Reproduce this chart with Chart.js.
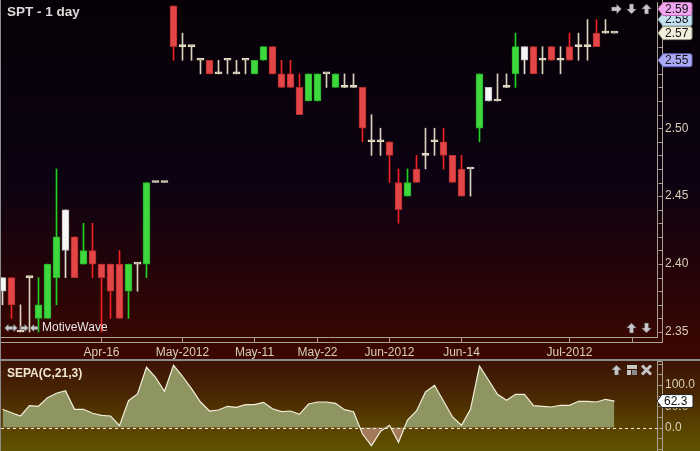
<!DOCTYPE html>
<html>
<head>
<meta charset="utf-8">
<script src="https://cdn.jsdelivr.net/npm/chart.js@4.4.1/dist/chart.umd.min.js"></script>
<style>
  html, body { margin: 0; padding: 0; background: #8c8c8c; }
  #wrap { position: relative; width: 700px; height: 451px; overflow: hidden; background: #8c8c8c; }
  #priceChart { position: absolute; left: 1px; top: 0; }
  #sepaChart { position: absolute; left: 1px; top: 361px; }
</style>
</head>
<body>
<div id="wrap">
  <canvas id="priceChart" width="699" height="359"></canvas>
  <canvas id="sepaChart" width="699" height="90"></canvas>
</div>
<script>
// SPT daily bars
const opens = [2.38, 2.39, 2.35, 2.39, 2.36, 2.36, 2.39, 2.41, 2.42, 2.40,
  2.41, 2.40, 2.40, 2.40, 2.38, 2.40, 2.40, 2.46, 2.46, 2.59,
  2.56, 2.56, 2.55, 2.55, 2.54, 2.55, 2.54, 2.55, 2.54, 2.55,
  2.56, 2.54, 2.54, 2.53, 2.52, 2.52, 2.54, 2.53, 2.53, 2.53,
  2.53, 2.49, 2.49, 2.49, 2.46, 2.45, 2.47, 2.48, 2.49, 2.49,
  2.48, 2.47, 2.47, 2.50, 2.52, 2.52, 2.53, 2.54, 2.55, 2.56,
  2.55, 2.56, 2.55, 2.56, 2.56, 2.56, 2.57, 2.57, 2.57];
const highs = [2.39, 2.39, 2.37, 2.39, 2.39, 2.40, 2.47, 2.44, 2.42, 2.43,
  2.43, 2.40, 2.40, 2.41, 2.40, 2.40, 2.46, 2.46, 2.46, 2.59,
  2.57, 2.56, 2.55, 2.55, 2.55, 2.55, 2.55, 2.55, 2.55, 2.56,
  2.56, 2.55, 2.55, 2.54, 2.54, 2.54, 2.54, 2.54, 2.54, 2.54,
  2.53, 2.51, 2.50, 2.49, 2.47, 2.47, 2.48, 2.50, 2.50, 2.50,
  2.48, 2.48, 2.47, 2.54, 2.53, 2.54, 2.54, 2.57, 2.56, 2.56,
  2.56, 2.56, 2.56, 2.57, 2.57, 2.58, 2.58, 2.58, 2.57];
const lows = [2.37, 2.36, 2.35, 2.35, 2.35, 2.36, 2.37, 2.39, 2.39, 2.40,
  2.39, 2.35, 2.36, 2.36, 2.36, 2.38, 2.39, 2.46, 2.46, 2.55,
  2.55, 2.55, 2.54, 2.54, 2.54, 2.54, 2.54, 2.54, 2.54, 2.55,
  2.54, 2.53, 2.53, 2.51, 2.52, 2.52, 2.53, 2.53, 2.53, 2.53,
  2.49, 2.48, 2.48, 2.46, 2.43, 2.45, 2.46, 2.47, 2.48, 2.47,
  2.46, 2.45, 2.45, 2.49, 2.52, 2.52, 2.53, 2.53, 2.54, 2.54,
  2.54, 2.55, 2.54, 2.55, 2.55, 2.55, 2.56, 2.57, 2.57];
const closes = [2.39, 2.37, 2.35, 2.39, 2.37, 2.40, 2.42, 2.44, 2.39, 2.41,
  2.40, 2.39, 2.38, 2.36, 2.40, 2.40, 2.46, 2.46, 2.46, 2.56,
  2.56, 2.56, 2.55, 2.54, 2.54, 2.55, 2.54, 2.55, 2.55, 2.56,
  2.54, 2.53, 2.53, 2.51, 2.54, 2.54, 2.54, 2.54, 2.53, 2.53,
  2.50, 2.49, 2.49, 2.48, 2.44, 2.46, 2.46, 2.48, 2.49, 2.48,
  2.46, 2.45, 2.47, 2.54, 2.53, 2.52, 2.53, 2.56, 2.56, 2.54,
  2.55, 2.55, 2.55, 2.55, 2.56, 2.56, 2.56, 2.57, 2.57];
// bars the platform paints white
const whiteBars = [0, 7, 54, 58];

// SEPA(C,21,3) indicator, one value per bar
const sepa = [42.9, 34.9, 27.1, 51.4, 50, 70.3, 80.7, 86.8, 42.9, 42.9,
  33.5, 28.8, 27.1, 4.2, 63.2, 79, 142, 118.4, 85.4, 146.7,
  120.8, 91.5, 60.1, 38.9, 41.3, 50, 47.6, 53.8, 53.8, 59.4,
  44.3, 37.3, 38.9, 31.1, 55.4, 60.1, 60.1, 57.1, 42, 37.3,
  -15.3, -42.9, -9, 5.2, -34.9, 17.7, 38.9, 83.7, 99.5, 62.5,
  24.8, 5.2, 42.9, 145, 112, 78.3, 64.2, 78.3, 78.3, 51.4,
  50, 48.3, 52.4, 52.4, 61.8, 61.8, 60.1, 66.5, 62.3];

// date axis
const dateTickIdx = [11, 20, 28, 35, 43, 51, 63, 70];
const dateTickLabels = ['Apr-16', 'May-2012', 'May-11', 'May-22', 'Jun-2012', 'Jun-14', 'Jul-2012', ''];

// price marker tags on the right edge
const markerPrices = [2.58, 2.57, 2.59, 2.55];
const markerFill = ['#c4e2f0', '#f2f0dc', '#f2a6f0', '#aaaaf6'];
const markerEdge = ['#7c9aa8', '#a4a28e', '#b86ab4', '#6666bc'];

const X_MIN = -1.5 / 9;
const X_MAX = X_MIN + 656 / 9;
const frameColor = '#a8a090';
const labelColor = '#d8d0b8';
const axisFont = { family: 'Liberation Sans', size: 12 };

function barKind(i) {
  if (whiteBars.includes(i)) return 'white';
  if (opens[i] === closes[i]) return 'doji';
  return closes[i] > opens[i] ? 'up' : 'down';
}
const candleFill = { up: '#3ed83e', down: '#e24646', white: '#f6f6f6', doji: '#ece6cc' };
const candleEdge = { up: '#27b027', down: '#b42c2c', white: '#bdbdbd', doji: '#e6e0c6' };
const wickColor = { up: '#22d022', down: '#ee2222', white: '#e2ded0', doji: '#d8d2bc' };

const barIdx = opens.map((_, i) => i);

function arrow(c, cx, cy, ang, s) {
  c.save();
  c.translate(cx, cy);
  c.rotate(ang);
  c.beginPath();
  c.moveTo(s, 0);
  c.lineTo(0, -s);
  c.lineTo(0, -s * 0.42);
  c.lineTo(-s, -s * 0.42);
  c.lineTo(-s, s * 0.42);
  c.lineTo(0, s * 0.42);
  c.lineTo(0, s);
  c.closePath();
  c.fillStyle = '#c6c6c6';
  c.fill();
  c.strokeStyle = 'rgba(60,60,60,0.7)';
  c.lineWidth = 0.7;
  c.stroke();
  c.restore();
}

function tag(c, xTip, yc, text, fill, edge, w) {
  const h = 13, x1 = xTip + 5, x2 = xTip + w;
  c.beginPath();
  c.moveTo(xTip, yc);
  c.lineTo(x1, yc - h / 2);
  c.lineTo(x2 - 2, yc - h / 2);
  c.quadraticCurveTo(x2, yc - h / 2, x2, yc - h / 2 + 2);
  c.lineTo(x2, yc + h / 2 - 2);
  c.quadraticCurveTo(x2, yc + h / 2, x2 - 2, yc + h / 2);
  c.lineTo(x1, yc + h / 2);
  c.closePath();
  c.fillStyle = fill;
  c.fill();
  c.strokeStyle = edge;
  c.lineWidth = 1;
  c.stroke();
  c.fillStyle = '#141414';
  c.font = '12px "Liberation Sans"';
  c.textBaseline = 'middle';
  c.textAlign = 'left';
  c.fillText(text, x1 + 2, yc + 0.5);
}

// background, frame, tags and the small icons of the price panel
const priceDecor = {
  id: 'priceDecor',
  beforeDraw(chart) {
    const c = chart.ctx;
    const g = c.createLinearGradient(0, 0, 0, chart.height);
    g.addColorStop(0, '#060006');
    g.addColorStop(0.5, '#0c0212');
    g.addColorStop(0.76, '#240409');
    g.addColorStop(1, '#3e0700');
    c.save();
    c.fillStyle = g;
    c.fillRect(0, 0, chart.width, chart.height);
    c.restore();
  },
  afterDraw(chart) {
    const c = chart.ctx, a = chart.chartArea, ys = chart.scales.y;
    const ox = a.right + 5.5, oy = a.bottom + 5.5;
    c.save();
    c.strokeStyle = frameColor;
    c.lineWidth = 1;
    c.beginPath();
    c.moveTo(ox, 0);
    c.lineTo(ox, oy);
    c.lineTo(0, oy);
    ys.ticks.forEach(t => {
      const y = Math.round(ys.getPixelForValue(t.value)) + 0.5;
      c.moveTo(ox - 4, y);
      c.lineTo(ox, y);
    });
    c.stroke();

    markerPrices.forEach((p, k) => {
      const y = Math.max(ys.getPixelForValue(p), a.top + 7);
      tag(c, a.right + 1, y, p.toFixed(2), markerFill[k], markerEdge[k], 34);
    });

    c.fillStyle = '#dcdcdc';
    c.font = 'bold 13.5px "Liberation Sans"';
    c.textBaseline = 'middle';
    c.fillText('SPT - 1 day', 6, 12.5);

    arrow(c, 615.5, 9, 0, 5);
    arrow(c, 630.5, 9, Math.PI / 2, 5);
    arrow(c, 645.5, 9, -Math.PI / 2, 5);
    arrow(c, 630.5, 328, -Math.PI / 2, 5);
    arrow(c, 645.5, 328, Math.PI / 2, 5);

    arrow(c, 12.5, 328, 0, 4);
    arrow(c, 7.5, 328, Math.PI, 4);
    arrow(c, 23.5, 328, 0, 4);
    arrow(c, 33, 328, Math.PI, 4);
    c.fillStyle = '#e6e6e6';
    c.font = '12px "Liberation Sans"';
    c.fillText('MotiveWave', 41, 328);
    c.restore();
  }
};

new Chart(document.getElementById('priceChart').getContext('2d'), {
  type: 'bar',
  data: {
    datasets: [
      {
        label: 'bodies',
        data: barIdx.map(i => ({ x: i, y: [Math.min(opens[i], closes[i]), Math.max(opens[i], closes[i])] })),
        backgroundColor: barIdx.map(i => candleFill[barKind(i)]),
        borderColor: barIdx.map(i => candleEdge[barKind(i)]),
        borderWidth: 1,
        borderSkipped: false,
        barThickness: 7,
        minBarLength: 2,
        grouped: false
      },
      {
        label: 'wicks',
        data: barIdx.map(i => ({ x: i, y: [lows[i], highs[i]] })),
        backgroundColor: barIdx.map(i => wickColor[barKind(i)]),
        borderWidth: 0,
        barThickness: 1,
        grouped: false
      }
    ]
  },
  options: {
    responsive: false,
    animation: false,
    events: [],
    layout: { padding: { left: 0, right: 0, top: 2, bottom: 0 } },
    plugins: { legend: { display: false }, tooltip: { enabled: false } },
    scales: {
      x: {
        type: 'linear',
        min: X_MIN,
        max: X_MAX,
        bounds: 'data',
        offset: false,
        afterBuildTicks: s => { s.ticks = dateTickIdx.map(v => ({ value: v })); },
        afterFit: s => { s.height = 22; s.paddingLeft = 0; s.paddingRight = 0; },
        ticks: {
          autoSkip: false, maxRotation: 0, padding: 3, color: labelColor, font: axisFont,
          callback: (v, i) => dateTickLabels[i]
        },
        grid: { offset: false, drawOnChartArea: false, drawTicks: true, tickLength: 5, color: frameColor },
        border: { display: true, color: frameColor }
      },
      y: {
        type: 'linear',
        position: 'right',
        min: 2.3463,
        max: 2.5929,
        bounds: 'data',
        afterBuildTicks: s => {
          const t = [];
          for (let k = 235; k <= 259; k++) t.push({ value: k / 100 });
          s.ticks = t;
        },
        afterFit: s => { s.width = 43; s.paddingTop = 0; s.paddingBottom = 0; },
        ticks: {
          autoSkip: false, padding: 8, color: labelColor, font: axisFont,
          callback: v => (Math.round(v * 100) % 5 === 0 ? v.toFixed(2) : '')
        },
        grid: { drawOnChartArea: false, drawTicks: false },
        border: { display: true, color: frameColor }
      }
    }
  },
  plugins: [priceDecor]
});

// indicator panel
const sepaDecor = {
  id: 'sepaDecor',
  beforeDraw(chart) {
    const c = chart.ctx;
    const g = c.createLinearGradient(0, 0, 0, chart.height);
    g.addColorStop(0, '#3c1304');
    g.addColorStop(0.4, '#4a2802');
    g.addColorStop(0.74, '#5a4300');
    g.addColorStop(1, '#5f5200');
    c.save();
    c.fillStyle = g;
    c.fillRect(0, 0, chart.width, chart.height);
    c.restore();
  },
  afterDatasetsDraw(chart) {
    const c = chart.ctx, a = chart.chartArea, ys = chart.scales.y;
    const y0 = Math.round(ys.getPixelForValue(0)) + 0.5;
    c.save();
    c.strokeStyle = '#f0ecd6';
    c.lineWidth = 1;
    c.setLineDash([3, 3]);
    c.beginPath();
    c.moveTo(a.left, y0);
    c.lineTo(a.right, y0);
    c.stroke();
    c.restore();
  },
  afterDraw(chart) {
    const c = chart.ctx, a = chart.chartArea, ys = chart.scales.y;
    const ox = a.right + 5.5;
    c.save();
    c.strokeStyle = frameColor;
    c.lineWidth = 1;
    c.beginPath();
    c.moveTo(ox, 0.5);
    c.lineTo(ox, chart.height);
    c.moveTo(a.right, 0.5);
    c.lineTo(ox, 0.5);
    ys.ticks.forEach(t => {
      const y = Math.round(ys.getPixelForValue(t.value)) + 0.5;
      c.moveTo(ox - 4, y);
      c.lineTo(ox, y);
    });
    c.stroke();

    const last = sepa[sepa.length - 1];
    tag(c, a.right, ys.getPixelForValue(last), last.toFixed(1), '#ffffff', '#202020', 36);

    c.fillStyle = '#f0e6d0';
    c.font = 'bold 12px "Liberation Sans"';
    c.textBaseline = 'middle';
    c.fillText('SEPA(C,21,3)', 6, 13);

    arrow(c, 615.5, 9, -Math.PI / 2, 5);
    c.fillStyle = '#c6c6c6';
    c.fillRect(626, 4, 10, 4);
    c.fillRect(626, 9, 4, 5);
    c.fillStyle = '#8a8a8a';
    c.fillRect(631, 9, 5, 5);
    c.strokeStyle = '#c6c6c6';
    c.lineWidth = 3;
    c.beginPath();
    c.moveTo(641, 4.5);
    c.lineTo(650, 13.5);
    c.moveTo(650, 4.5);
    c.lineTo(641, 13.5);
    c.stroke();
    c.restore();
  }
};

new Chart(document.getElementById('sepaChart').getContext('2d'), {
  type: 'line',
  data: {
    datasets: [{
      label: 'SEPA(C,21,3)',
      data: sepa.map((v, i) => ({ x: i, y: v })),
      borderColor: '#f2eedc',
      borderWidth: 1.2,
      pointRadius: 0,
      tension: 0,
      fill: { target: 'origin', above: '#8e9560', below: '#a27a5a' }
    }]
  },
  options: {
    responsive: false,
    animation: false,
    events: [],
    layout: { padding: 0 },
    plugins: { legend: { display: false }, tooltip: { enabled: false } },
    scales: {
      x: { type: 'linear', display: false, min: X_MIN, max: X_MAX, bounds: 'data' },
      y: {
        type: 'linear',
        position: 'right',
        min: -55.4,
        max: 156.8,
        bounds: 'data',
        afterBuildTicks: s => {
          const t = [];
          for (let v = -50; v <= 150; v += 25) t.push({ value: v });
          s.ticks = t;
        },
        afterFit: s => { s.width = 43; s.paddingTop = 0; s.paddingBottom = 0; },
        ticks: {
          autoSkip: false, padding: 8, color: labelColor, font: axisFont,
          callback: v => (v >= 0 && v <= 100 && v % 50 === 0 ? v.toFixed(1) : '')
        },
        grid: { drawOnChartArea: false, drawTicks: false },
        border: { display: true, color: frameColor }
      }
    }
  },
  plugins: [sepaDecor]
});
</script>
</body>
</html>
